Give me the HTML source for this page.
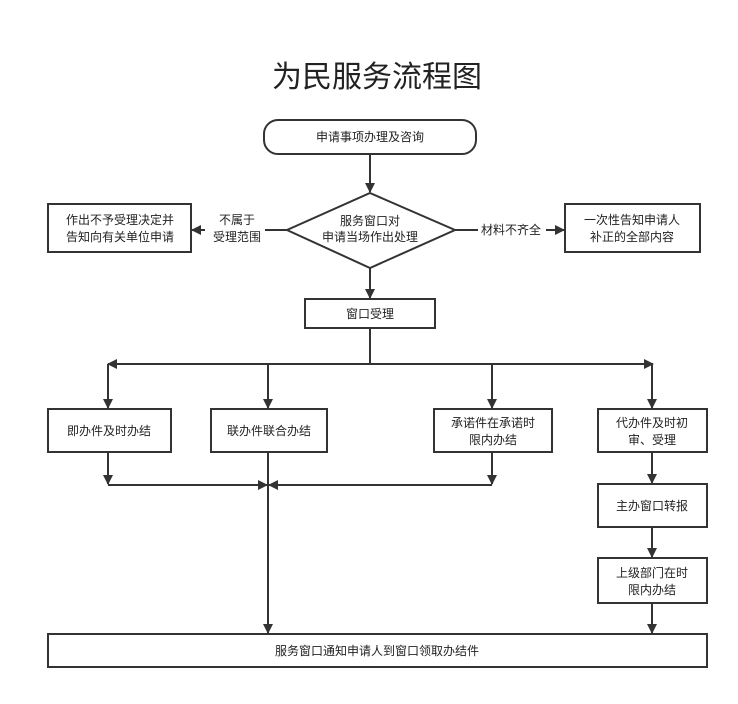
<!DOCTYPE html>
<html><head><meta charset="utf-8"><style>
body{margin:0;background:#fff;}
svg text{font-family:"Liberation Sans","Noto Sans CJK SC",sans-serif;fill:#222;}
</style></head><body>
<svg width="738" height="699" viewBox="0 0 738 699" xmlns="http://www.w3.org/2000/svg">
<defs><marker id="a" markerWidth="10" markerHeight="10" refX="9" refY="5" orient="auto" markerUnits="userSpaceOnUse"><path d="M0,0 L10,5 L0,10 z" fill="#333"/></marker></defs>
<g stroke="#333" stroke-width="2" fill="none">
<rect x="264" y="120" width="212" height="34" rx="14"/>
<polygon points="370,193 455,230 370,268 287,230"/>
<rect x="48" y="204" width="143" height="48"/>
<rect x="565" y="204" width="135" height="48"/>
<rect x="305" y="299" width="130" height="29"/>
<rect x="48" y="409" width="123" height="43"/>
<rect x="211" y="409" width="116" height="43"/>
<rect x="434" y="409" width="118" height="43"/>
<rect x="598" y="409" width="109" height="43"/>
<rect x="598" y="484" width="109" height="43"/>
<rect x="598" y="558" width="109" height="45"/>
<rect x="48" y="634" width="659" height="33"/>
<line x1="370" y1="154" x2="370" y2="192" marker-end="url(#a)"/>
<line x1="370" y1="268" x2="370" y2="298" marker-end="url(#a)"/>
<line x1="287" y1="230" x2="192" y2="230" marker-end="url(#a)"/>
<line x1="455" y1="230" x2="564" y2="230" marker-end="url(#a)"/>
<line x1="370" y1="328" x2="370" y2="364"/>
<line x1="370" y1="364" x2="108" y2="364" marker-end="url(#a)"/>
<line x1="370" y1="364" x2="653" y2="364" marker-end="url(#a)"/>
<line x1="108" y1="364" x2="108" y2="408" marker-end="url(#a)"/>
<line x1="268" y1="364" x2="268" y2="408" marker-end="url(#a)"/>
<line x1="492" y1="364" x2="492" y2="408" marker-end="url(#a)"/>
<line x1="652" y1="364" x2="652" y2="408" marker-end="url(#a)"/>
<line x1="108" y1="452" x2="108" y2="484" marker-end="url(#a)"/>
<line x1="492" y1="452" x2="492" y2="484" marker-end="url(#a)"/>
<line x1="108" y1="485" x2="267" y2="485" marker-end="url(#a)"/>
<line x1="492" y1="485" x2="269" y2="485" marker-end="url(#a)"/>
<line x1="268" y1="452" x2="268" y2="633" marker-end="url(#a)"/>
<line x1="652" y1="452" x2="652" y2="483" marker-end="url(#a)"/>
<line x1="652" y1="527" x2="652" y2="557" marker-end="url(#a)"/>
<line x1="652" y1="603" x2="652" y2="633" marker-end="url(#a)"/>
</g>
<rect x="205" y="211" width="60" height="36" fill="#fff"/>
<rect x="478" y="222" width="68" height="16" fill="#fff"/>
<g font-size="12" text-anchor="middle">
<text x="377" y="87" font-size="30">为民服务流程图</text>
<text x="370" y="141">申请事项办理及咨询</text>
<text x="370" y="225">服务窗口对</text>
<text x="370" y="241">申请当场作出处理</text>
<text x="120" y="224">作出不予受理决定并</text>
<text x="120" y="241">告知向有关单位申请</text>
<text x="237" y="224">不属于</text>
<text x="237" y="241">受理范围</text>
<text x="511" y="234">材料不齐全</text>
<text x="632" y="224">一次性告知申请人</text>
<text x="632" y="241">补正的全部内容</text>
<text x="370" y="318">窗口受理</text>
<text x="109" y="435">即办件及时办结</text>
<text x="269" y="435">联办件联合办结</text>
<text x="493" y="427">承诺件在承诺时</text>
<text x="493" y="444">限内办结</text>
<text x="652" y="427">代办件及时初</text>
<text x="652" y="444">审、受理</text>
<text x="652" y="510">主办窗口转报</text>
<text x="652" y="577">上级部门在时</text>
<text x="652" y="594">限内办结</text>
<text x="377" y="655">服务窗口通知申请人到窗口领取办结件</text>
</g>
</svg>
</body></html>
